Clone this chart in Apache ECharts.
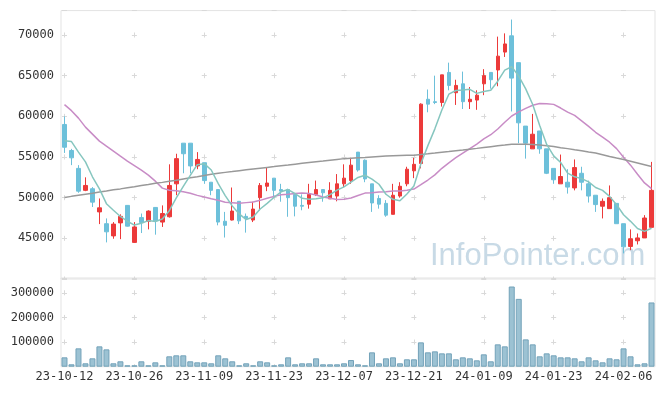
<!DOCTYPE html>
<html><head><meta charset="utf-8">
<script src="https://cdn.jsdelivr.net/npm/echarts@6/dist/echarts.min.js"></script>
<style>html,body{margin:0;padding:0;background:#fff}#c{width:665px;height:396px}</style>
</head><body><div id="c"></div><script>
const dates = [
'23-10-12','23-10-13','23-10-16','23-10-17','23-10-18','23-10-19','23-10-20','23-10-23','23-10-24','23-10-25',
'23-10-26','23-10-27','23-10-30','23-10-31','23-11-01','23-11-02','23-11-03','23-11-06','23-11-07','23-11-08',
'23-11-09','23-11-10','23-11-13','23-11-14','23-11-15','23-11-16','23-11-17','23-11-20','23-11-21','23-11-22',
'23-11-23','23-11-24','23-11-27','23-11-28','23-11-29','23-11-30','23-12-01','23-12-04','23-12-05','23-12-06',
'23-12-07','23-12-08','23-12-11','23-12-12','23-12-13','23-12-14','23-12-15','23-12-18','23-12-19','23-12-20',
'23-12-21','23-12-22','23-12-26','23-12-27','23-12-28','24-01-02','24-01-03','24-01-04','24-01-05','24-01-08',
'24-01-09','24-01-10','24-01-11','24-01-12','24-01-15','24-01-16','24-01-17','24-01-18','24-01-19','24-01-22',
'24-01-23','24-01-24','24-01-25','24-01-26','24-01-29','24-01-30','24-01-31','24-02-01','24-02-02','24-02-05',
'24-02-06','24-02-07','24-02-08','24-02-13','24-02-14'];
const opens = [59000,55800,53600,50900,51100,48250,46800,45300,46900,49050,
 44500,47550,47100,48800,47000,47650,51700,56700,56700,53900,
 54300,51900,51000,47100,47250,49550,47700,47250,50000,51400,
 52400,51000,51000,50400,49050,49200,50400,51000,49850,50200,
 51700,52100,55600,54600,51700,49900,49300,47950,50200,51700,
 53300,54200,62100,61800,61700,65400,62900,64000,61800,62000,
 64000,65400,65700,67900,69900,66600,58800,56000,58200,56000,
 53600,51700,51900,51200,53000,51700,50300,48950,48650,49300,
 46800,44000,44700,45050,46350];
const closes = [56200,54900,50800,51500,49450,48750,45800,46750,47700,46500,
 46400,46950,48350,47150,48050,51500,54800,55400,53900,54700,
 52100,50900,47000,46600,48350,47150,47450,48600,51500,51800,
 50900,50800,50000,48950,48950,50400,51000,50600,50900,51700,
 52400,54000,53400,52300,49350,49200,47850,50300,51400,53500,
 54100,61500,61500,61700,65100,63800,63800,61800,62100,62600,
 65000,64500,67400,68900,64700,59200,56700,57800,56000,53000,
 52200,52600,51300,53700,51900,50200,49150,49550,50000,46800,
 43950,44950,45050,47500,50900];
const lows = [55500,54000,50600,50800,48850,46750,44500,44950,44900,46450,
 44450,45650,46100,45450,46400,47550,50300,53000,53000,53500,
 51700,50300,46600,45100,47200,46750,45700,47000,48450,50800,
 50100,49500,47650,47700,48450,48650,50200,49500,49850,49550,
 51300,51700,53200,51900,48250,48650,47650,47950,50000,51400,
 52400,53600,60500,61500,61200,63200,61400,60900,60900,60800,
 62600,63400,63700,67300,60600,56700,54800,56000,55400,52900,
 51700,51700,50500,50900,50900,49400,48250,47450,48650,46800,
 43150,43550,44250,45050,46350];
const highs = [60000,56000,54000,52500,51300,49900,47450,47000,47950,49100,
 47000,48050,48450,48850,49050,54100,55400,56700,56700,55600,
 54300,51900,51000,48250,51250,49550,48050,49500,51800,53700,
 52400,51700,51100,50400,50400,51700,52100,51000,51900,52900,
 54100,54900,55600,54700,51700,50300,49700,51700,51900,53800,
 54900,61600,63300,65000,65100,66600,64500,65500,63600,63200,
 65800,65400,69800,70200,71900,66600,58800,60300,58200,56000,
 53600,55300,53500,54700,53800,52100,50300,49900,51500,49300,
 46800,46100,45600,47850,54400];
const volumes = [38000,9700,74500,13800,34000,82600,70400,13800,21900,5700,
 5700,21900,5700,17800,5700,42100,46200,46200,21900,17800,
 17800,13800,46200,34000,21900,5700,13800,5700,21900,17800,
 5700,9700,38000,9700,13800,13800,34000,9700,9700,9700,
 13800,27100,9700,5700,58300,13800,34000,38000,13800,30000,
 30000,98800,58300,62300,54200,54200,30000,38000,34000,25900,
 50200,21900,90700,82600,325500,275300,110900,90700,42100,54200,
 46200,38000,38000,34000,21900,38000,25900,17800,34000,30000,
 74500,42100,9700,13800,260700];
const ma5 = [57000,56900,55600,54400,52570,51080,49260,48450,47690,47100,
 46630,46860,47180,47070,47380,48400,49970,51380,52730,54060,
 54180,53400,51720,50260,48990,48000,47310,47630,48610,49300,
 50050,50720,51000,50490,49920,49820,49860,49980,50370,50920,
 51320,51920,52480,52760,52290,51650,50420,49800,49620,50450,
 51430,54160,56400,58460,60780,62720,63180,63240,63320,62820,
 63060,63200,64320,65680,66100,64940,63380,61460,58880,56540,
 55140,54320,53020,52560,52340,51940,51250,50900,50160,49140,
 47900,47090,46210,45860,46240];
const ma20 = [61440,60700,59780,58670,57810,56950,56330,55720,55100,54490,
 53940,53380,52770,52030,51170,50920,50840,50740,50550,50280,
 50070,49870,49680,49440,49380,49300,49390,49480,49670,49930,
 50160,50350,50430,50520,50570,50510,50320,50080,49930,49780,
 49800,49950,50270,50560,50610,50710,50730,50820,50810,50900,
 51060,51590,52170,52800,53610,54280,54920,55480,56040,56590,
 57220,57740,58440,59270,60040,60540,60980,61360,61590,61560,
 61470,61020,60510,60110,59450,58770,58040,57430,56820,56030,
 54980,54000,52880,51810,51120];
const ma60 = [50020,50160,50290,50420,50550,50690,50820,50960,51080,51220,
 51350,51490,51620,51760,51880,52020,52150,52300,52440,52580,
 52730,52870,53010,53110,53210,53320,53420,53520,53620,53720,
 53820,53930,54020,54120,54220,54320,54420,54500,54600,54700,
 54800,54850,54900,54950,55010,55060,55110,55140,55170,55200,
 55230,55320,55400,55490,55590,55670,55760,55850,55960,56060,
 56170,56270,56370,56470,56580,56580,56570,56550,56490,56390,
 56280,56150,56030,55890,55760,55610,55480,55280,55070,54870,
 54680,54470,54260,54050,53840];

const FONT = '"DejaVu Sans Mono", monospace';
const GRID_COLOR = '#e3e3e3';
const MARK_COLOR = '#d9d9d9';
const labelStyle = {color:'#333', fontSize:12, fontFamily:FONT};

const chart = echarts.init(document.getElementById('c'), null, {renderer:'canvas'});
chart.setOption({
  animation:false,
  backgroundColor:'#ffffff',
  grid:[
    {left:61, top:10.6, width:594, height:268.4, show:true, borderColor:GRID_COLOR, borderWidth:1, backgroundColor:'transparent'},
    {left:61, top:278, width:594, height:88.7, show:true, borderColor:GRID_COLOR, borderWidth:1, backgroundColor:'transparent'}
  ],
  xAxis:[
    {type:'category', gridIndex:0, data:dates, boundaryGap:true,
     axisLine:{show:false}, axisTick:{show:false}, axisLabel:{show:false},
     splitLine:{show:true, interval:9, alignWithLabel:true,
       lineStyle:{color:MARK_COLOR, width:1, type:[5,35.667], dashOffset:18.767}}},
    {type:'category', gridIndex:1, data:dates, boundaryGap:true,
     axisLine:{show:false}, axisTick:{show:false},
     axisLabel:Object.assign({show:true, interval:9, margin:4}, labelStyle),
     splitLine:{show:true, interval:9, alignWithLabel:true,
       lineStyle:{color:MARK_COLOR, width:1, type:[5,19.639], dashOffset:12.36}}}
  ],
  yAxis:[
    {type:'value', gridIndex:0, min:40000, max:73000, interval:5000,
     axisLine:{show:false}, axisTick:{show:false},
     axisLabel:Object.assign({margin:7, showMinLabel:false, showMaxLabel:false, formatter:v=>String(v)}, labelStyle),
     splitLine:{show:true, lineStyle:{color:MARK_COLOR, width:1, type:[5,64.882], dashOffset:68.888}}},
    {type:'value', gridIndex:1, min:0, max:360000, interval:100000,
     axisLine:{show:false}, axisTick:{show:false},
     axisLabel:Object.assign({margin:7, showMinLabel:false, showMaxLabel:false, formatter:v=>String(v)}, labelStyle),
     splitLine:{show:true, lineStyle:{color:MARK_COLOR, width:1, type:[5,64.882], dashOffset:68.888}}}
  ],
  graphic:[
    {type:'text', z:-10, zlevel:0, silent:true,
     style:{x:430, y:256, text:'InfoPointer.com', font:'31px "Liberation Sans", Arial, sans-serif',
            fill:'#c8dae6', verticalAlign:'middle', align:'left'}}
  ],
  series:[
    {type:'candlestick', xAxisIndex:0, yAxisIndex:0, barWidth:4,
     data:dates.map((d,i)=>[opens[i], closes[i], lows[i], highs[i]]),
     itemStyle:{color:'#ec3a3a', color0:'#6dc0da', borderColor:'#ec3a3a', borderColor0:'#6dc0da', borderWidth:1},
     z:2},
    {type:'line', xAxisIndex:0, yAxisIndex:0, data:ma20, symbol:'none', silent:true,
     lineStyle:{color:'#c88cc6', width:1.5}, z:3},
    {type:'line', xAxisIndex:0, yAxisIndex:0, data:ma60, symbol:'none', silent:true,
     lineStyle:{color:'#999999', width:1.5}, z:3},
    {type:'line', xAxisIndex:0, yAxisIndex:0, data:ma5, symbol:'none', silent:true,
     lineStyle:{color:'#86c6bf', width:1.5}, z:4},
    {type:'bar', xAxisIndex:1, yAxisIndex:1, data:volumes, barWidth:6,
     itemStyle:{color:'#9cc2d3', borderColor:'#73a2b9', borderWidth:1}}
  ]
});
</script></body></html>
